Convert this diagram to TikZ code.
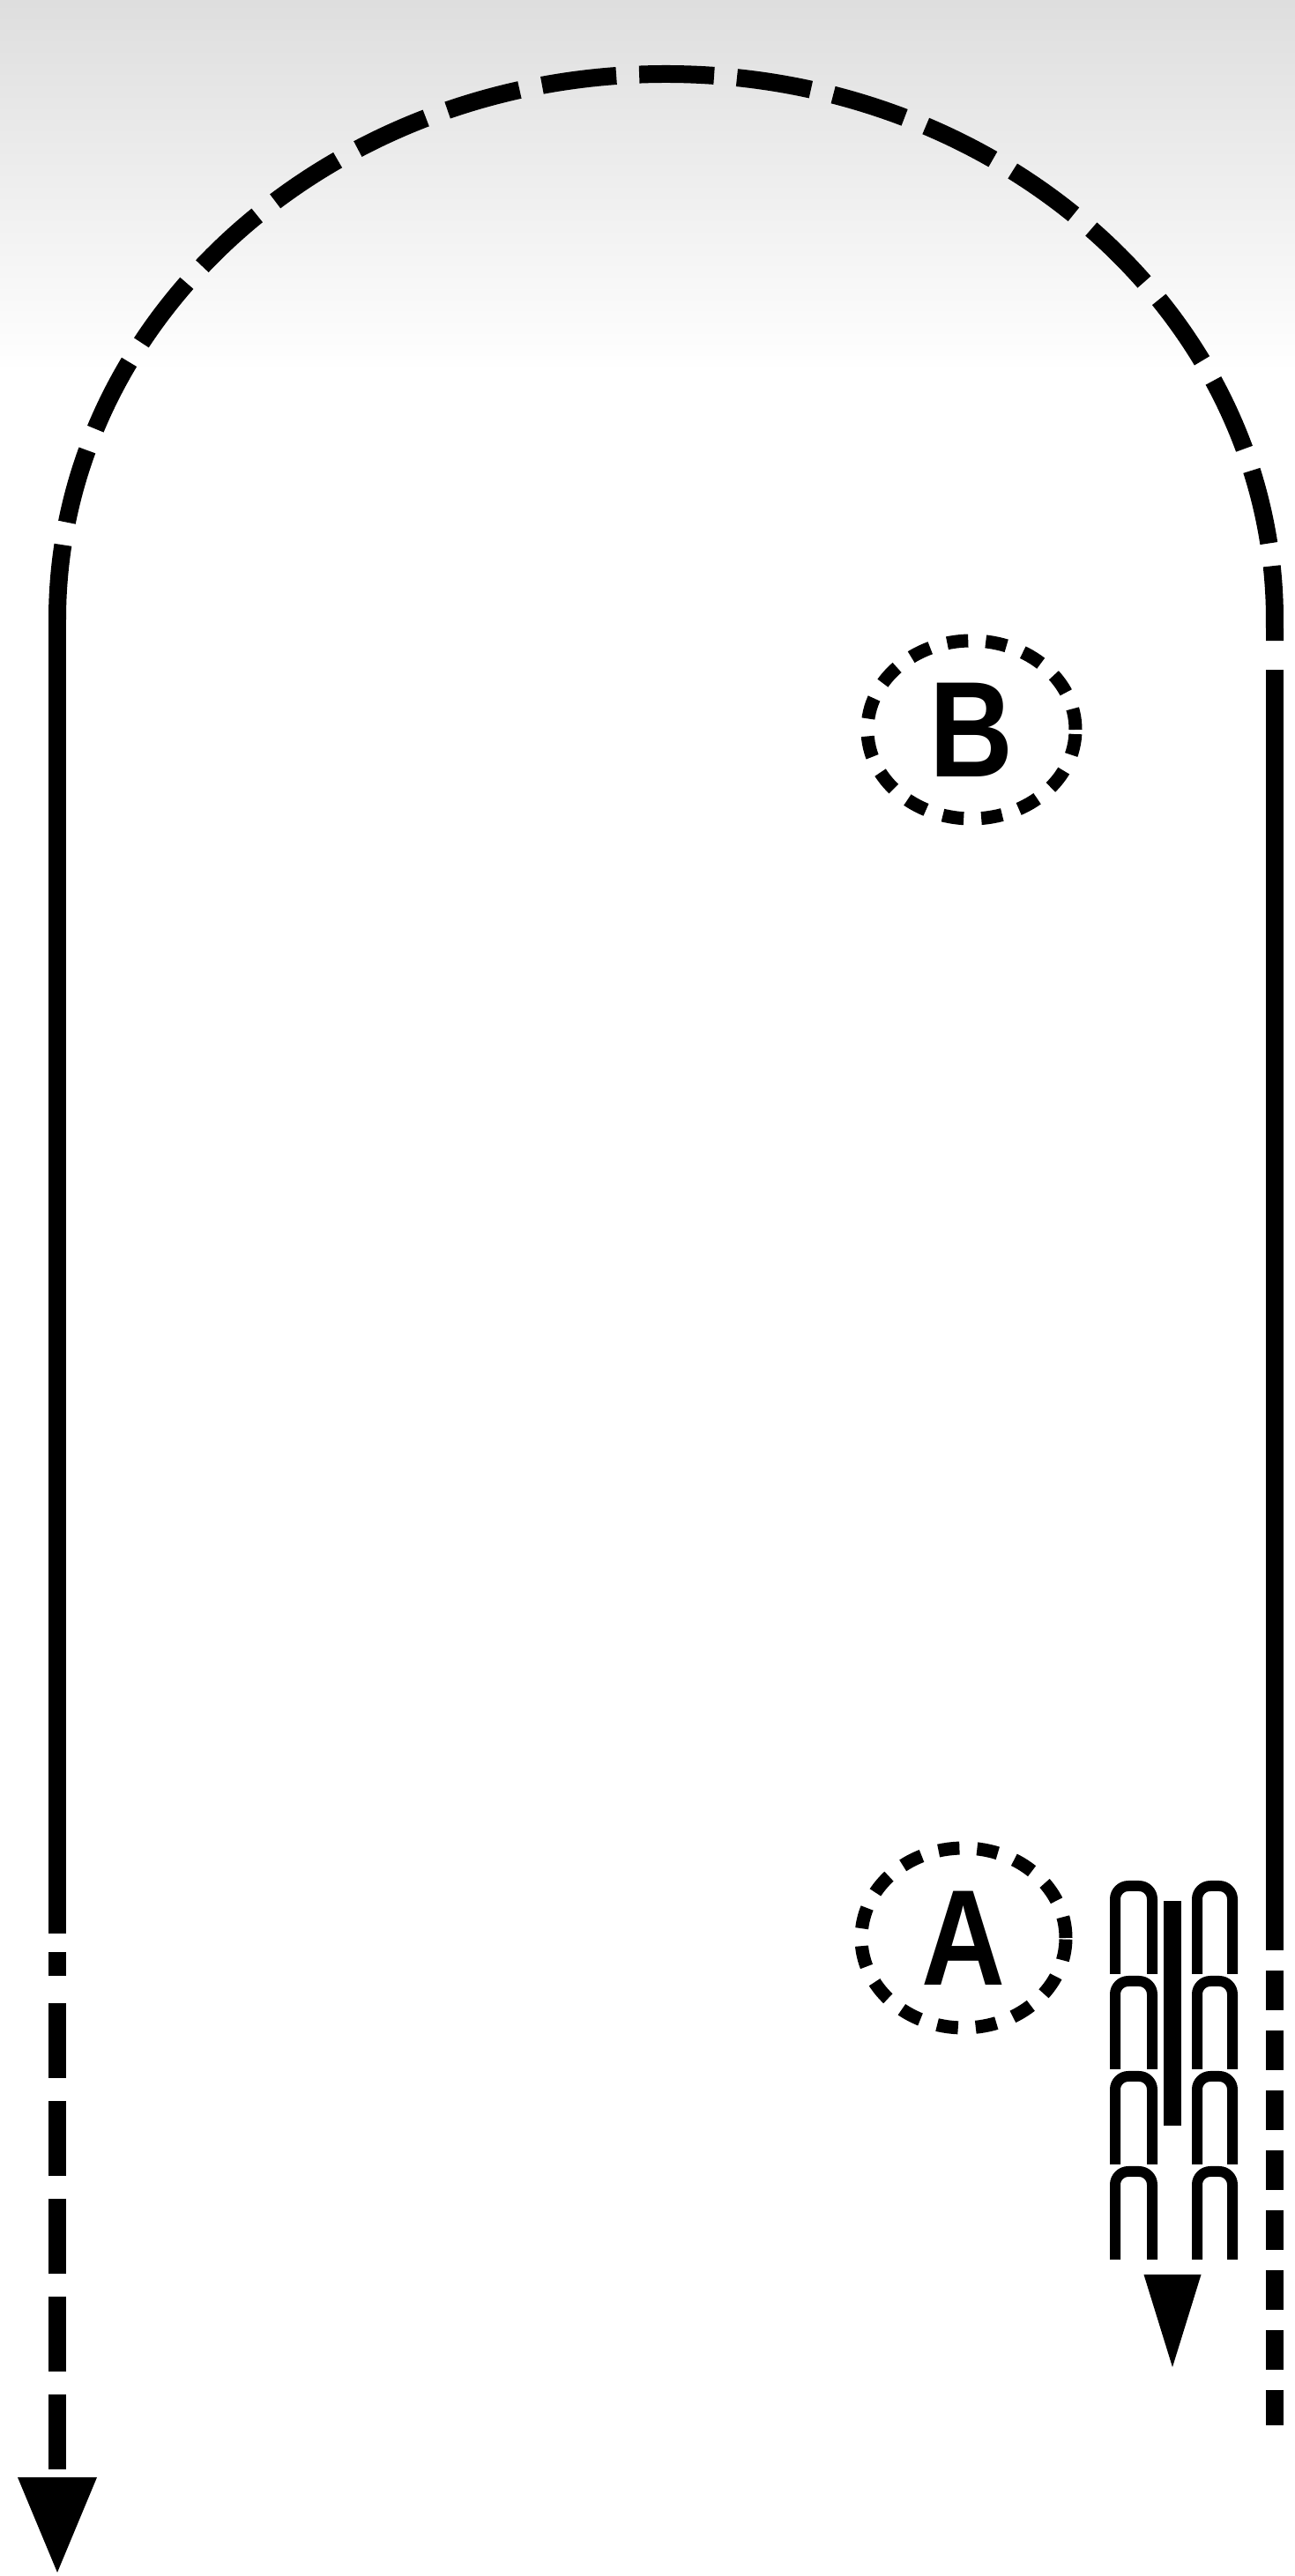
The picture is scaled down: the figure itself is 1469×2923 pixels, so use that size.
\documentclass[tikz,border=0pt]{standalone}
\usepackage{fontspec}
\setsansfont{Liberation Sans}
\usepackage{graphicx}
\usetikzlibrary{arrows.meta,shapes.geometric}

\begin{document}
\begin{tikzpicture}[x=0.1mm,y=0.1mm,
  trail/.style={line width=2mm},
  longdash/.style={trail,dash pattern=on 8.5mm off 2.6mm},
  shortdash/.style={trail,dash pattern=on 4.5mm off 2.3mm},
  ringnode/.style={ellipse,draw,line width=1.5mm,dash pattern=on 2.4mm off 2mm,inner sep=0pt},
  lettertext/.style={font=\sffamily\bfseries\fontsize{44pt}{44pt}\selectfont},
  hook/.style={line width=1.2mm,rounded corners=1.5mm}]
  \useasboundingbox (0,0) rectangle (1469,2923);
  \fill[white] (0,0) rectangle (1469,2923);
  \shade[top color=black!13,bottom color=white] (0,2500) rectangle (1469,2923);

  \node[ringnode,lettertext,minimum width=23.6mm,minimum height=20.2mm] (B) at (1102,2095) {\scalebox{0.85}[1]{B}};
  \node[ringnode,lettertext,minimum width=23.2mm,minimum height=20.4mm] (A) at (1093,724) {\scalebox{0.85}[1]{A}};

  \coordinate (la) at (65,2220);   \coordinate (lm) at (65,729);
  \coordinate (lp) at (65,708);    \coordinate (lq) at (65,681);
  \coordinate (ld) at (65,650);    \coordinate (lb) at (65,4);
  \coordinate (ra) at (1446,2178); \coordinate (rt) at (1446,2163);
  \coordinate (rm) at (1446,710);  \coordinate (rd) at (1446,687);
  \coordinate (rb) at (1446,171);
  \coordinate (sa) at (1330,766);  \coordinate (sb) at (1330,237);

  % the loop over the top
  \draw[longdash] (la) arc[start angle=180,end angle=0,x radius=69.05mm,y radius=61.9mm] -- (ra);
  % left side, down to the arrow
  \draw[trail] (la) -- (lm);
  \draw[trail] (lp) -- (lq);
  \draw[longdash,-{Triangle[width=9mm,length=10.8mm,line width=0pt]}] (ld) -- (lb);
  % right side
  \draw[trail] (rt) -- (rm);
  \draw[shortdash] (rd) -- (rb);

  % small track beside A
  \foreach \t in {783,675,567,459} {
    \draw[hook] (1265,\t-100) -- (1265,\t) -- (1307,\t) -- (1307,\t-100);
    \draw[hook] (1358,\t-100) -- (1358,\t) -- (1398,\t) -- (1398,\t-100);
  }
  \draw[trail,dash pattern=on 25.5mm off 40mm,-{Triangle[width=6.5mm,length=10.5mm,line width=0pt]}] (sa) -- (sb);
\end{tikzpicture}
\end{document}
